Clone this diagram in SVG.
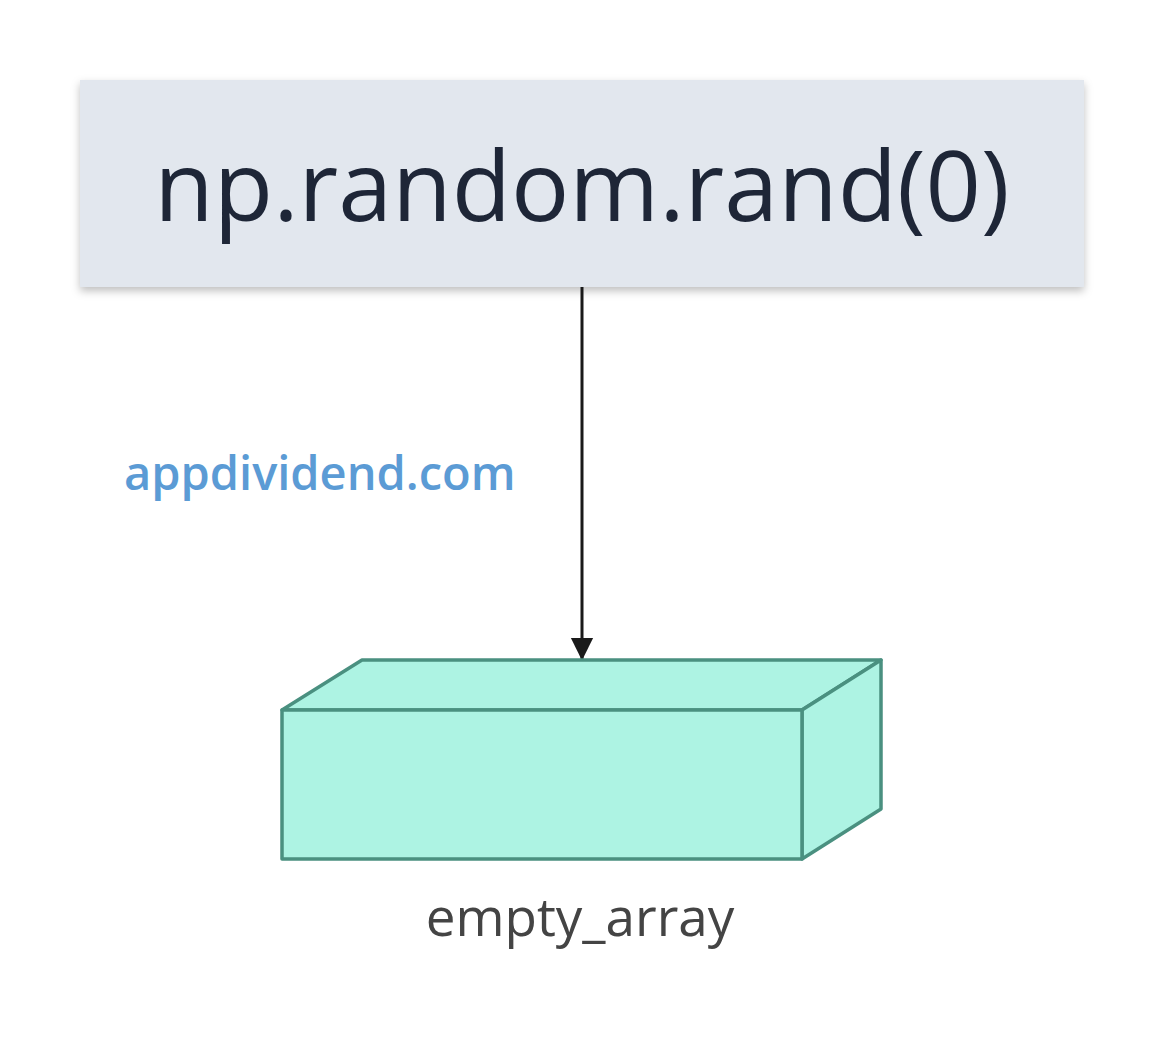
<svg xmlns="http://www.w3.org/2000/svg" width="1165" height="1060" viewBox="0 0 1165 1060">
  <style>
    .title { font-family: "Open Sans", "Noto Sans", sans-serif; font-size: 97px; fill: #1e2637; }
    .wm { font-family: "Open Sans", "Noto Sans", sans-serif; font-size: 47px; font-weight: 600; fill: #5b9bd5; }
    .lbl { font-family: "Open Sans", "Noto Sans", sans-serif; font-size: 53px; fill: #444444; }
    .cube { fill: #adf3e3; stroke: #4a9080; stroke-width: 3.5; stroke-linejoin: round; }
    .edge { stroke: #1a1a1a; stroke-width: 3; fill: none; }
  </style>
  <defs>
    <filter id="shadow" x="-5%" y="-10%" width="110%" height="130%">
      <feDropShadow dx="0" dy="4" stdDeviation="4" flood-color="#000" flood-opacity="0.25"/>
    </filter>
    <marker id="arrow" markerWidth="8" markerHeight="8" refX="7" refY="4" orient="auto" markerUnits="strokeWidth">
      <path d="M0,0.3 L7.5,4 L0,7.7 Z" fill="#1a1a1a"/>
    </marker>
  </defs>
  <rect width="1165" height="1060" fill="#ffffff"/>
  <g id="node-rand">
    <rect x="80" y="80" width="1004" height="207" fill="#e2e7ee" filter="url(#shadow)"/>
    <text class="title" x="582" y="221" text-anchor="middle">np.random.rand(0)</text>
  </g>
  <g id="connectors">
    <line class="edge" x1="582" y1="287" x2="582" y2="659" marker-end="url(#arrow)"/>
  </g>
  <g id="watermark">
    <text class="wm" x="124" y="490">appdividend.com</text>
  </g>
  <g id="node-empty-array">
    <polygon class="cube" points="282,710 362,660 881,660 802,710"/>
    <polygon class="cube" points="802,710 881,660 881,809 802,859"/>
    <rect class="cube" x="282" y="710" width="520" height="149"/>
    <text class="lbl" x="580" y="936" text-anchor="middle">empty_array</text>
  </g>
</svg>
